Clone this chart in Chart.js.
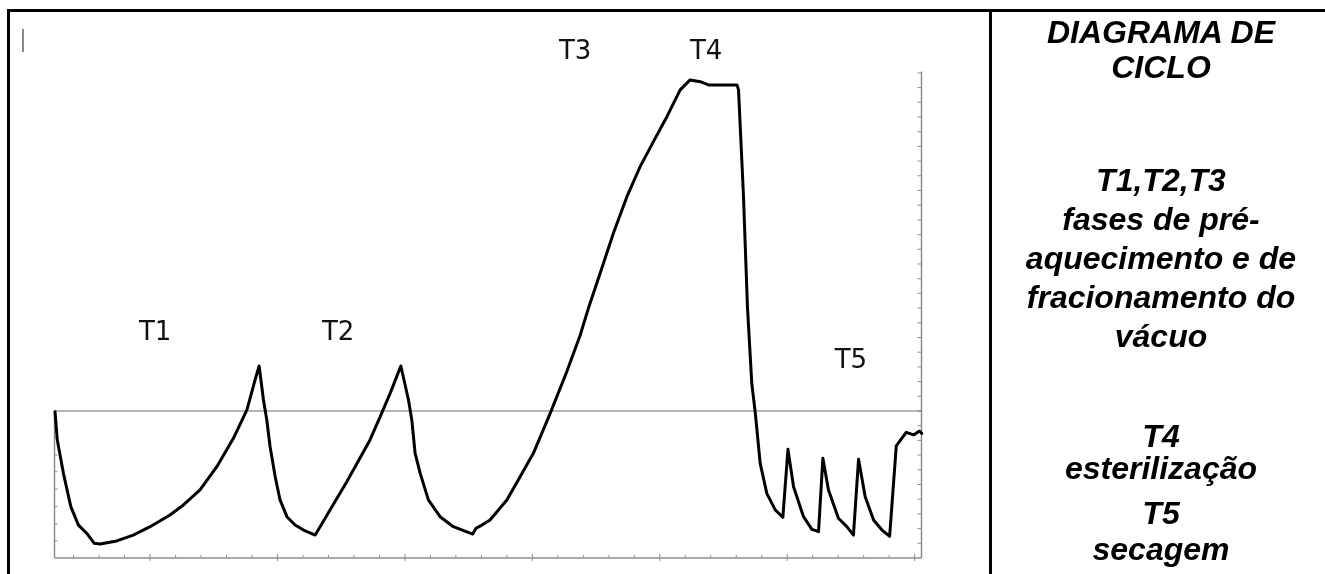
<!DOCTYPE html>
<html><head><meta charset="utf-8">
<script src="https://cdn.jsdelivr.net/npm/chart.js@4.4.1/dist/chart.umd.min.js"></script>
<style>
html,body{margin:0;padding:0;background:#fff;width:1325px;height:574px;overflow:hidden;}
#wrap{position:absolute;left:0;top:0;width:1325px;height:574px;}
canvas{position:absolute;left:0;top:0;}
.frame{position:absolute;background:#000;}
.mark{position:absolute;background:#8a8a8a;}
.lbl{position:absolute;font-family:"DejaVu Sans",Verdana,sans-serif;font-size:26px;line-height:26px;color:#111;white-space:nowrap;transform:translateX(-50%);}
.pl{position:absolute;left:990px;width:342px;text-align:center;font-family:"Liberation Sans",Arial,sans-serif;font-weight:bold;font-style:italic;font-size:32px;line-height:32px;color:#000;white-space:nowrap;}
</style></head><body>
<div id="wrap">
<canvas id="c" width="1325" height="574"></canvas>
<div class="frame" style="left:7px;top:9px;width:1318px;height:3px"></div>
<div class="frame" style="left:7px;top:9px;width:3px;height:565px"></div>
<div class="frame" style="left:989px;top:9px;width:3px;height:565px"></div>
<div class="mark" style="left:22px;top:29px;width:1.5px;height:23px"></div>
<div id="labels"></div>
<div class="pl" style="top:16px">DIAGRAMA DE</div>
<div class="pl" style="top:51px">CICLO</div>
<div class="pl" style="top:164px">T1,T2,T3</div>
<div class="pl" style="top:203px">fases de pré-</div>
<div class="pl" style="top:242px">aquecimento e de</div>
<div class="pl" style="top:281px">fracionamento do</div>
<div class="pl" style="top:320px">vácuo</div>
<div class="pl" style="top:420px">T4</div>
<div class="pl" style="top:452px">esterilização</div>
<div class="pl" style="top:497px">T5</div>
<div class="pl" style="top:533px">secagem</div>
</div>
<script>
// time (x) and pressure (y)
const timeX = [1.27,1.36,1.60,1.89,2.19,2.54,2.81,3.04,3.69,4.34,5.00,5.78,6.31,6.96,7.62,8.27,8.80,9.12,9.28,9.45,9.58,9.71,9.91,10.10,10.37,10.69,11.02,11.48,12.06,12.72,13.63,14.03,14.42,14.84,15.14,15.27,15.40,15.60,15.92,16.38,16.90,17.66,17.79,18.02,18.34,19.00,19.52,20.04,20.70,21.35,21.88,22.20,22.66,23.18,23.71,24.23,24.75,25.28,25.80,26.19,26.59,26.91,28.03,28.09,28.28,28.44,28.61,28.75,28.94,29.20,29.53,29.83,30.03,30.25,30.64,30.97,31.23,31.40,31.62,32.01,32.34,32.60,32.80,33.06,33.39,33.72,34.02,34.28,34.67,34.96,35.19,35.28];
const pressure = [9.95,8.03,5.76,3.49,2.24,1.63,1.00,0.95,1.16,1.56,2.13,2.93,3.61,4.63,6.21,8.14,10.07,12.11,13.06,10.75,9.39,7.57,5.53,3.95,2.81,2.24,1.90,1.56,3.27,5.19,8.03,9.61,11.20,13.06,10.75,9.39,7.12,5.76,3.95,2.81,2.13,1.63,2.02,2.24,2.59,3.95,5.53,7.12,9.84,12.67,15.17,16.99,19.37,22.09,24.58,26.62,28.32,30.02,31.84,32.52,32.40,32.18,32.18,31.84,24.81,17.10,11.88,9.84,6.44,4.40,3.27,2.77,7.39,4.85,2.81,1.95,1.79,6.78,4.63,2.70,2.13,1.56,6.71,4.17,2.59,1.90,1.48,7.62,8.55,8.37,8.64,8.48];
const atmLevel = 10;
const phaseLabels = ['T1','T2','T3','T4','T5'];
const phaseX = [5.2, 12.38, 21.68, 26.82, 32.5];
const phaseY = [14.83, 14.83, 33.95, 33.95, 12.95];
const xMin = 1.25, xMax = 35.27, yMin = 0, yMax = 33.1;
const bottomTicks = []; for (let v = 2; v <= 35; v++) bottomTicks.push(v);
const rightTicks = []; for (let v = 1; v <= 33; v++) rightTicks.push(v);
const leftTicks = [1.16, 2.31, 3.49, 4.69, 5.87, 7.0, 8.18];

const axesPlugin = {
  id: 'refAxes',
  beforeDatasetsDraw(chart) {
    const ctx = chart.ctx, x = chart.scales.x, y = chart.scales.y;
    const L = x.left, R = x.right, B = y.getPixelForValue(yMin), T = y.top;
    const seg = (a,b,c,d) => { ctx.beginPath(); ctx.moveTo(a,b); ctx.lineTo(c,d); ctx.stroke(); };
    ctx.save();
    ctx.strokeStyle = '#8c8c8c'; ctx.lineWidth = 1.5;
    seg(L, B, R, B);
    seg(R, T, R, B);
    const yA = y.getPixelForValue(atmLevel);
    seg(L, yA, L, B);
    ctx.lineWidth = 1;
    bottomTicks.forEach(v => { const p = x.getPixelForValue(v); if (v % 5 === 0) seg(p, B-4, p, B+3); else seg(p, B-3, p, B); });
    rightTicks.forEach(v => { const p = y.getPixelForValue(v); seg(R-4, p, R, p); });
    leftTicks.forEach(v => { const p = y.getPixelForValue(v); seg(L, p, L+3, p); });
    ctx.strokeStyle = '#6e6e6e'; ctx.lineWidth = 1.2;
    seg(L, yA, R, yA);
    ctx.restore();
  }
};

const chart = new Chart(document.getElementById('c'), {
  type: 'line',
  data: { datasets: [{
    data: timeX.map((t,i) => ({x: t, y: pressure[i]})),
    borderColor: '#000', borderWidth: 3, pointRadius: 0, tension: 0,
    borderJoinStyle: 'round', borderCapStyle: 'round', fill: false
  }]},
  options: {
    responsive: false, animation: false, devicePixelRatio: 1,
    layout: { padding: { left: 54.5, right: 403.5, top: 71.4, bottom: 16 } },
    plugins: { legend: {display:false}, tooltip: {enabled:false} },
    scales: {
      x: { type: 'linear', min: xMin, max: xMax, display: false },
      y: { type: 'linear', min: yMin, max: yMax, display: false }
    },
    clip: false
  },
  plugins: [axesPlugin]
});

const lab = document.getElementById('labels');
phaseLabels.forEach((t,i) => {
  const d = document.createElement('div');
  d.className = 'lbl'; d.textContent = t;
  d.style.left = chart.scales.x.getPixelForValue(phaseX[i]) + 'px';
  d.style.top = (chart.scales.y.getPixelForValue(phaseY[i]) - 22) + 'px';
  lab.appendChild(d);
});
</script>
</body></html>
